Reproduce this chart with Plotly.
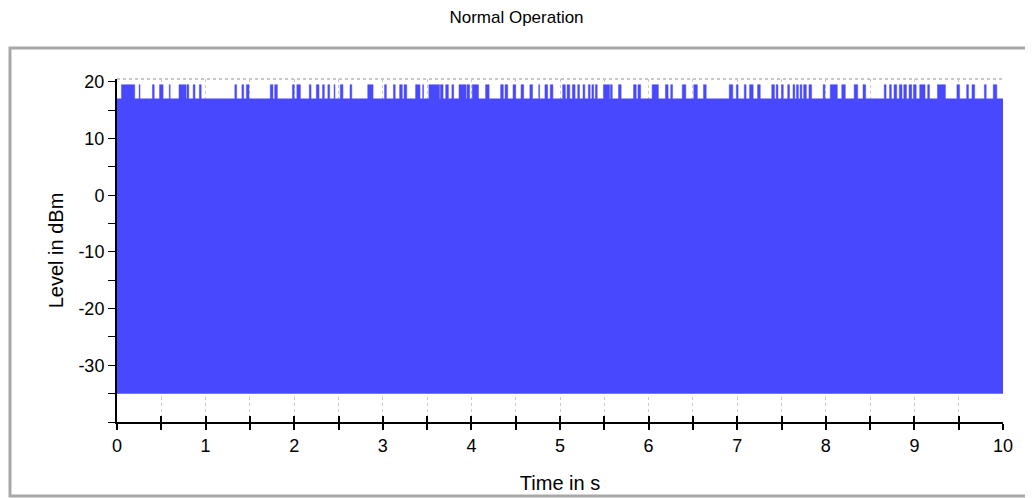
import plotly.graph_objects as go

# ---- data ----
title_text = "Normal Operation"
x_title = "Time in s"
y_title = "Level in dBm"

t_start = 0.0
t_end = 10.0
level_floor = -35.0      # lower edge of the burst signal (dBm)
level_burst = 17.0       # typical burst level (dBm)
level_peak = 19.5        # occasional peak level (dBm)

# time intervals (s) where the level reaches the peak value
peak_start = [0.05, 0.25, 0.40, 0.48, 0.59, 0.70, 0.79, 0.86, 0.93, 1.33, 1.41, 1.46,
              1.73, 1.78, 1.98, 2.03, 2.17, 2.25, 2.32, 2.38, 2.45, 2.52, 2.63, 2.83,
              3.02, 3.12, 3.19, 3.24, 3.37, 3.45, 3.52, 3.65, 3.71, 3.78, 3.86, 3.95,
              4.01, 4.16, 4.33, 4.38, 4.47, 4.56, 4.66, 4.76, 4.83, 4.89, 5.03, 5.08,
              5.14, 5.20, 5.26, 5.32, 5.36, 5.40, 5.49, 5.57, 5.66, 5.83, 5.88, 6.04,
              6.19, 6.25, 6.38, 6.51, 6.62, 6.91, 6.99, 7.08, 7.14, 7.23, 7.39, 7.44,
              7.50, 7.57, 7.63, 7.67, 7.71, 7.75, 7.81, 7.97, 8.05, 8.18, 8.32, 8.42,
              8.66, 8.72, 8.77, 8.83, 8.88, 8.94, 8.99, 9.06, 9.15, 9.26, 9.48, 9.59,
              9.65, 9.79, 9.89]
peak_end = [0.20, 0.26, 0.42, 0.52, 0.60, 0.78, 0.81, 0.88, 0.95, 1.35, 1.43, 1.49,
            1.76, 1.81, 2.00, 2.07, 2.19, 2.28, 2.34, 2.40, 2.46, 2.55, 2.65, 2.89,
            3.04, 3.14, 3.22, 3.27, 3.42, 3.46, 3.64, 3.68, 3.74, 3.80, 3.94, 3.98,
            4.08, 4.20, 4.36, 4.41, 4.50, 4.59, 4.69, 4.77, 4.86, 4.92, 5.06, 5.11,
            5.17, 5.22, 5.28, 5.34, 5.38, 5.42, 5.56, 5.59, 5.69, 5.86, 5.91, 6.11,
            6.22, 6.27, 6.42, 6.55, 6.65, 6.95, 7.01, 7.10, 7.18, 7.26, 7.42, 7.46,
            7.52, 7.59, 7.65, 7.69, 7.73, 7.78, 7.84, 7.99, 8.13, 8.22, 8.36, 8.45,
            8.68, 8.74, 8.80, 8.86, 8.91, 8.97, 9.02, 9.12, 9.17, 9.35, 9.51, 9.61,
            9.68, 9.81, 9.93]

y_range = [-40, 20.5]
y_tickvals = [-30, -20, -10, 0, 10, 20]
y_ticktext = ["-30", "-20", "-10", "0", "10", "20"]
x_tickvals = [i * 0.5 for i in range(21)]
x_ticktext = [str(int(v)) if v == int(v) else "" for v in x_tickvals]

# ---- build envelope of the signal from the data ----
env_x = [t_start]
env_y = [level_burst]
for s, e in zip(peak_start, peak_end):
    env_x += [s, s, e, e]
    env_y += [level_burst, level_peak, level_peak, level_burst]
env_x.append(t_end)
env_y.append(level_burst)

BLUE = "#4848FF"
FONT = "Liberation Sans, Arial, sans-serif"

W, H = 1025, 490          # page has an 8px body margin
ML, MR, MT, MB = 109, 30, 71, 76
PW = W - ML - MR
PH = H - MT - MB

fig = go.Figure()
fig.add_trace(go.Scatter(x=[t_start, t_end], y=[level_floor, level_floor],
                         mode="lines", line=dict(width=0, color=BLUE),
                         showlegend=False, hoverinfo="skip"))
fig.add_trace(go.Scatter(x=env_x, y=env_y, mode="lines",
                         line=dict(width=0.5, color=BLUE, shape="linear"),
                         fill="tonexty", fillcolor=BLUE,
                         showlegend=False, name="Level"))
# invisible trace to activate the overlaid tick axis
fig.add_trace(go.Scatter(x=[t_start, t_end], y=[level_floor, level_floor], xaxis="x2",
                         mode="lines", line=dict(width=0), showlegend=False,
                         hoverinfo="skip"))

fig.update_layout(
    width=W, height=H,
    paper_bgcolor="white", plot_bgcolor="white",
    margin=dict(l=ML, r=MR, t=MT, b=MB, autoexpand=False),
    font=dict(family=FONT, color="black"),
    title=dict(text=title_text, x=(516.5 - 8) / W, xref="container", xanchor="center",
               y=1 - 9 / H, yref="container", yanchor="middle",
               font=dict(size=17, family=FONT, color="black")),
    xaxis=dict(range=[t_start, t_end], tickvals=x_tickvals, ticktext=x_ticktext,
               ticks="outside", ticklen=6, tickwidth=2, tickcolor="black",
               showline=True, linecolor="black", linewidth=2,
               showgrid=True, gridcolor="#C8C8C8", griddash="dot", gridwidth=1,
               zeroline=False, tickfont=dict(size=18),
               title=dict(text=x_title, font=dict(size=20), standoff=21)),
    xaxis2=dict(range=[t_start, t_end], overlaying="x", anchor="y", side="bottom",
                tickvals=x_tickvals, showticklabels=False,
                ticks="inside", ticklen=6, tickwidth=2, tickcolor="black",
                showgrid=False, zeroline=False, showline=False),
    yaxis=dict(range=y_range, tickvals=y_tickvals, ticktext=y_ticktext,
               ticks="outside", ticklen=7, tickwidth=1, tickcolor="black",
               minor=dict(dtick=5, tick0=0, ticks="outside", ticklen=7,
                          tickcolor="black", showgrid=False),
               showline=True, linecolor="black", linewidth=2,
               showgrid=False, zeroline=False, tickfont=dict(size=18),
               title=dict(text=y_title, font=dict(size=20), standoff=9)),
    shapes=[
        dict(type="line", xref="paper", yref="paper", x0=0, x1=1, y0=1, y1=1,
             line=dict(color="#C8C8C8", width=2, dash="dot")),
        dict(type="rect", xref="paper", yref="paper",
             x0=(2 - ML) / PW, x1=1.1, y0=-(488 - (H - MB)) / PH, y1=1 + (MT - 40) / PH,
             line=dict(color="#A8A8A8", width=3), layer="below"),
    ],
)

fig.write_html("out.html")
